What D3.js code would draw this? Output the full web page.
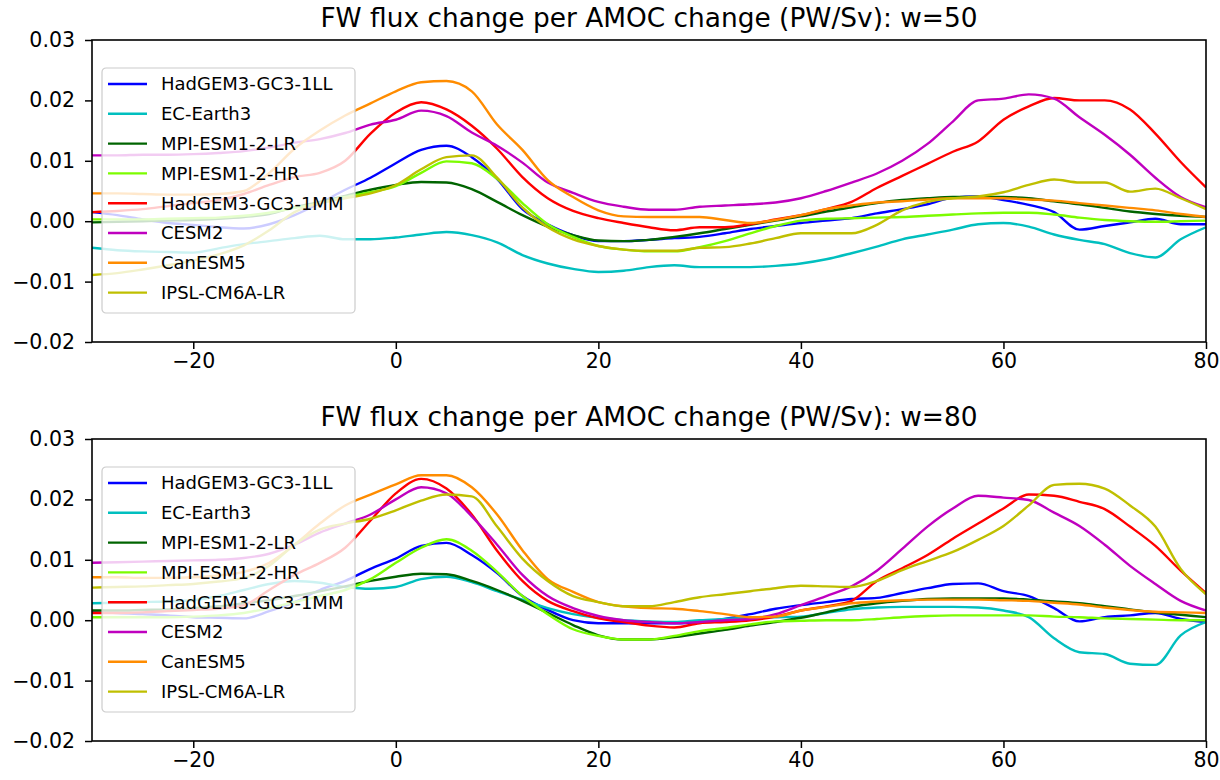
<!DOCTYPE html>
<html>
<head>
<meta charset="utf-8">
<script src="https://cdn.jsdelivr.net/npm/d3@7"></script>
<style>
  body { margin: 0; background: #fff; }
  svg { display: block; font-family: "DejaVu Sans", sans-serif; }
</style>
</head>
<body>
<svg id="chart" width="1220" height="780"></svg>
<script>
// latitude grid (deg N) shared by every curve
const lat = [-30, -27.5, -25, -22.5, -20, -17.5, -15, -12.5, -10, -7.5, -5, -2.5, 0, 2.5, 5, 7.5,
  10, 12.5, 15, 17.5, 20, 22.5, 25, 27.5, 30, 32.5, 35, 37.5, 40, 42.5, 45, 47.5, 50, 52.5,
  55, 57.5, 60, 62.5, 65, 67.5, 70, 72.5, 75, 77.5, 80];

const modelNames = ["HadGEM3-GC3-1LL", "EC-Earth3", "MPI-ESM1-2-LR", "MPI-ESM1-2-HR",
  "HadGEM3-GC3-1MM", "CESM2", "CanESM5", "IPSL-CM6A-LR"];

const xTicks = [-20, 0, 20, 40, 60, 80];
const yTicks = [-0.02, -0.01, 0.00, 0.01, 0.02, 0.03];

// values below are in units of 1e-3 PW/Sv
// w = 50
const hadLL_w50 = [1.5, 1.0, 0.3, -0.3, -0.6, -1.0, -1.2, -0.5, 1.0, 3.0, 5.2, 7.2, 9.6, 11.8, 12.5, 10.6, 7.0, 2.0, -0.5, -2.3, -3.3, -3.3, -3.1, -2.8, -2.6, -2.0, -1.3, -0.8, -0.3, 0.1, 0.5, 1.3, 2.0, 2.8, 3.9, 4.1, 3.5, 2.7, 1.5, -1.4, -0.8, -0.2, 0.4, -0.5, -0.5];
const ecEarth_w50 = [-4.4, -4.8, -5.0, -5.1, -5.2, -4.5, -3.8, -3.3, -2.8, -2.4, -3.0, -3.0, -2.7, -2.2, -1.8, -2.3, -3.5, -5.6, -7.0, -7.9, -8.4, -8.2, -7.6, -7.3, -7.6, -7.6, -7.6, -7.4, -7.0, -6.3, -5.3, -4.2, -3.0, -2.2, -1.4, -0.5, -0.3, -0.9, -2.2, -3.1, -3.8, -5.3, -6.0, -3.0, -1.0];
const mpiLR_w50 = [-0.2, -0.1, 0.0, 0.1, 0.2, 0.4, 0.7, 1.2, 2.3, 3.2, 4.2, 5.2, 6.0, 6.5, 6.4, 5.3, 3.2, 1.0, -0.9, -2.3, -3.2, -3.3, -3.1, -2.6, -2.0, -1.3, -0.6, 0.1, 0.8, 1.6, 2.3, 3.0, 3.5, 3.8, 4.0, 4.0, 4.0, 3.8, 3.3, 2.8, 2.2, 1.6, 1.2, 0.9, 0.7];
const mpiHR_w50 = [0.3, 0.3, 0.3, 0.4, 0.5, 0.6, 0.9, 1.4, 2.2, 3.0, 4.0, 4.8, 5.8, 8.0, 9.9, 9.6, 7.0, 3.0, -0.5, -2.6, -4.1, -4.7, -5.0, -5.0, -4.3, -3.3, -2.0, -0.8, 0.1, 0.4, 0.5, 0.6, 0.7, 0.9, 1.1, 1.3, 1.4, 1.4, 1.1, 0.6, 0.2, 0.0, -0.1, 0.0, 0.1];
const hadMM_w50 = [1.5, 1.7, 2.0, 2.5, 3.0, 3.5, 4.5, 6.0, 7.3, 8.0, 10.0, 14.5, 18.0, 19.7, 18.5, 15.8, 12.0, 7.3, 3.8, 1.7, 0.5, -0.3, -1.0, -1.5, -1.0, -1.0, -0.5, 0.3, 1.0, 2.0, 3.2, 5.5, 7.5, 9.5, 11.5, 13.2, 16.8, 19.0, 20.4, 20.0, 20.0, 18.5, 14.5, 9.8, 5.6];
const cesm2_w50 = [10.9, 10.9, 11.0, 11.0, 11.1, 11.3, 11.6, 12.2, 13.0, 13.6, 14.6, 16.0, 16.8, 18.3, 17.4, 14.7, 12.5, 9.7, 6.4, 4.7, 3.2, 2.4, 1.9, 1.9, 2.4, 2.6, 2.8, 3.1, 3.8, 5.0, 6.4, 7.9, 10.0, 12.8, 16.5, 20.0, 20.3, 21.0, 20.3, 17.2, 14.3, 11.0, 7.2, 4.0, 2.3];
const canESM5_w50 = [4.6, 4.6, 4.5, 4.4, 4.4, 4.5, 5.0, 8.0, 12.0, 15.0, 17.5, 19.5, 21.5, 23.0, 23.2, 21.5, 16.0, 11.8, 6.8, 4.0, 1.8, 0.8, 0.7, 0.7, 0.7, 0.2, -0.3, 0.2, 1.0, 2.0, 2.6, 3.1, 3.3, 3.6, 3.8, 3.8, 3.8, 3.6, 3.4, 3.0, 2.6, 2.2, 1.8, 1.2, 0.7];
const ipsl_w50 = [-8.9, -8.6, -8.0, -7.3, -6.5, -5.5, -4.0, -1.5, 1.5, 3.0, 3.8, 4.6, 6.0, 8.6, 10.6, 10.9, 7.2, 2.3, -1.0, -3.0, -4.1, -4.7, -4.9, -4.9, -4.4, -4.3, -3.7, -2.8, -2.0, -2.0, -2.0, -0.6, 1.8, 3.2, 3.8, 4.1, 4.8, 6.0, 6.9, 6.4, 6.4, 4.9, 5.4, 3.8, 2.0];

// w = 80
const hadLL_w80 = [1.3, 1.2, 1.0, 0.8, 0.5, 0.4, 0.3, 1.5, 3.0, 5.0, 6.5, 8.5, 10.2, 12.3, 12.8, 10.8, 7.8, 4.0, 1.7, 0.0, -0.5, -0.5, -0.5, -0.5, -0.3, 0.2, 1.0, 1.9, 2.5, 3.0, 3.5, 3.7, 4.5, 5.3, 6.0, 6.1, 4.8, 4.0, 2.0, -0.2, 0.5, 0.8, 1.2, 0.2, -0.3];
const ecEarth_w80 = [2.8, 2.9, 3.0, 3.1, 3.3, 4.0, 5.0, 6.0, 6.5, 6.2, 5.5, 5.2, 5.5, 6.8, 7.2, 6.3, 4.8, 3.4, 2.0, 1.0, 0.4, 0.0, -0.2, -0.3, 0.0, 0.2, 0.4, 0.5, 0.6, 1.2, 1.8, 2.1, 2.2, 2.2, 2.2, 2.1, 1.6, 0.5, -3.0, -5.3, -5.6, -7.2, -7.4, -2.5, -0.3];
const mpiLR_w80 = [1.6, 1.6, 1.7, 1.8, 2.0, 2.3, 2.8, 3.3, 4.0, 4.8, 5.6, 6.5, 7.2, 7.7, 7.6, 6.5, 5.0, 3.2, 1.2, -0.8, -2.5, -3.2, -3.2, -2.8, -2.2, -1.6, -0.9, -0.3, 0.4, 1.3, 2.2, 2.8, 3.2, 3.5, 3.6, 3.6, 3.6, 3.4, 3.1, 2.8, 2.3, 1.8, 1.3, 0.9, 0.5];
const mpiHR_w80 = [0.5, 0.5, 0.5, 0.5, 0.6, 0.8, 1.2, 2.0, 3.0, 4.0, 5.0, 6.8, 9.5, 12.0, 13.4, 11.5, 8.0, 4.0, 1.0, -1.5, -2.6, -3.2, -3.2, -2.6, -1.8, -1.3, -0.7, -0.2, -0.1, 0.0, 0.0, 0.2, 0.5, 0.7, 0.8, 0.8, 0.8, 0.8, 0.6, 0.5, 0.3, 0.2, 0.1, 0.0, 0.0];
const hadMM_w80 = [1.2, 1.2, 1.3, 1.5, 1.7, 1.9, 2.5, 5.0, 7.5, 9.5, 12.0, 16.5, 21.0, 23.4, 21.8, 17.5, 11.5, 6.5, 3.2, 1.5, 0.3, -0.3, -0.9, -1.2, -0.5, -0.3, 0.0, 0.6, 1.6, 2.3, 3.2, 6.5, 8.6, 10.8, 13.5, 16.0, 18.5, 20.8, 20.6, 19.6, 18.4, 15.5, 12.3, 8.2, 4.5];
const cesm2_w80 = [9.5, 9.6, 9.7, 9.8, 9.9, 10.0, 10.3, 11.0, 12.5, 14.5, 16.0, 17.5, 20.0, 22.0, 21.0, 17.2, 12.5, 7.5, 4.0, 2.0, 0.7, 0.0, -0.3, -0.5, -0.3, 0.0, 0.2, 1.0, 2.5, 4.0, 5.6, 8.2, 11.8, 15.5, 18.5, 20.6, 20.3, 19.9, 17.8, 15.6, 12.5, 9.0, 6.0, 3.2, 1.6];
const canESM5_w80 = [7.1, 7.1, 7.0, 7.0, 7.1, 7.4, 8.0, 9.5, 12.5, 16.0, 19.0, 20.8, 22.5, 24.0, 24.0, 22.0, 17.5, 11.6, 6.8, 4.7, 3.0, 2.3, 2.0, 1.9, 1.5, 1.0, 0.5, 0.6, 1.6, 2.2, 2.8, 3.1, 3.3, 3.4, 3.4, 3.4, 3.3, 3.2, 2.9, 2.6, 2.1, 1.7, 1.4, 1.3, 1.2];
const ipsl_w80 = [5.4, 5.5, 5.6, 5.8, 6.0, 6.4, 7.0, 9.0, 12.5, 15.0, 16.0, 16.8, 18.2, 19.8, 20.8, 20.5, 15.5, 10.2, 6.5, 4.0, 3.0, 2.3, 2.3, 3.0, 3.8, 4.3, 4.8, 5.3, 5.7, 5.6, 5.5, 6.5, 8.3, 9.8, 11.3, 13.3, 15.6, 19.0, 22.4, 22.6, 21.8, 19.0, 15.5, 8.5, 4.3];

const COLORS = ["#0000ff", "#00bfbf", "#006400", "#7cfc00", "#ff0000", "#bf00bf", "#ff8c00", "#bfbf00"];

const panels = [
  { title: "FW flux change per AMOC change (PW/Sv): w=50", top: 40,
    series: [hadLL_w50, ecEarth_w50, mpiLR_w50, mpiHR_w50, hadMM_w50, cesm2_w50, canESM5_w50, ipsl_w50] },
  { title: "FW flux change per AMOC change (PW/Sv): w=80", top: 439,
    series: [hadLL_w80, ecEarth_w80, mpiLR_w80, mpiHR_w80, hadMM_w80, cesm2_w80, canESM5_w80, ipsl_w80] }
];

const LEFT = 92, RIGHT = 1206, PLOT_H = 302;
const minus = s => String(s).replace("-", "\u2212");

const svg = d3.select("#chart");
svg.append("rect").attr("width", 1220).attr("height", 780).attr("fill", "#fff");

const x = d3.scaleLinear().domain([-30, 80]).range([LEFT, RIGHT]);

panels.forEach((p, pi) => {
  const y = d3.scaleLinear().domain([-0.02, 0.03]).range([p.top + PLOT_H, p.top]);
  const g = svg.append("g");

  // clip region for curves
  const clipId = "clip" + pi;
  svg.append("clipPath").attr("id", clipId)
    .append("rect").attr("x", LEFT).attr("y", p.top)
    .attr("width", RIGHT - LEFT).attr("height", PLOT_H);

  const line = d3.line()
    .x((d, i) => x(lat[i]))
    .y(d => y(d * 1e-3))
    .curve(d3.curveMonotoneX);

  const curves = g.append("g").attr("clip-path", `url(#${clipId})`);
  p.series.forEach((vals, si) => {
    curves.append("path")
      .datum(vals)
      .attr("d", line)
      .attr("fill", "none")
      .attr("stroke", COLORS[si])
      .attr("stroke-width", 2.4)
      .attr("stroke-linejoin", "round");
  });

  // axes
  const xAxis = d3.axisBottom(x).tickValues(xTicks).tickSize(7).tickPadding(4)
    .tickSizeOuter(0).tickFormat(minus);
  const yAxis = d3.axisLeft(y).tickValues(yTicks).tickSize(7).tickPadding(10)
    .tickSizeOuter(0).tickFormat(d => minus(d3.format(".2f")(d)));

  g.append("g").attr("transform", `translate(0,${p.top + PLOT_H})`).call(xAxis)
    .call(a => a.select(".domain").remove());
  g.append("g").attr("transform", `translate(${LEFT},0)`).call(yAxis)
    .call(a => a.select(".domain").remove());
  g.selectAll(".tick text").attr("font-size", 20.5).attr("font-family", "DejaVu Sans").attr("fill", "#000");
  g.selectAll(".tick line").attr("stroke", "#000").attr("stroke-width", 1.5);

  // frame
  g.append("rect")
    .attr("x", LEFT).attr("y", p.top)
    .attr("width", RIGHT - LEFT).attr("height", PLOT_H)
    .attr("fill", "none").attr("stroke", "#000").attr("stroke-width", 1.6);

  // title
  g.append("text")
    .attr("x", (LEFT + RIGHT) / 2).attr("y", p.top - 13)
    .attr("text-anchor", "middle")
    .attr("font-size", 26.4)
    .text(p.title);

  // legend (semi-transparent box like matplotlib's framealpha 0.8)
  const lg = g.append("g").attr("transform", `translate(102,${p.top + 28})`);
  lg.append("rect")
    .attr("width", 253).attr("height", 245).attr("rx", 4)
    .attr("fill", "#fff").attr("fill-opacity", 0.8)
    .attr("stroke", "#cccccc").attr("stroke-width", 1.2);
  modelNames.forEach((name, i) => {
    const ry = 16 + i * 29.8;
    lg.append("line")
      .attr("x1", 6).attr("x2", 45).attr("y1", ry).attr("y2", ry)
      .attr("stroke", COLORS[i]).attr("stroke-width", 2.4);
    lg.append("text")
      .attr("x", 59).attr("y", ry).attr("dy", "0.36em")
      .attr("font-size", 18)
      .text(name);
  });
});
</script>
</body>
</html>
